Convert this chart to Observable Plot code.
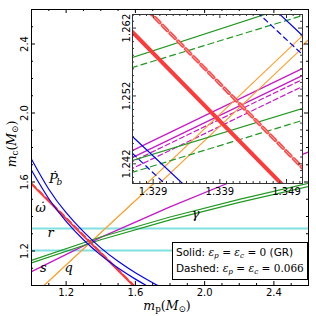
<!DOCTYPE html>
<html><head><meta charset="utf-8">
<script src="https://cdn.jsdelivr.net/npm/d3@7"></script>
<script src="https://cdn.jsdelivr.net/npm/@observablehq/plot@0.6"></script>
<style>
body{margin:0;background:#fff;}
#wrap{position:relative;width:316px;height:316px;overflow:hidden;font-family:"DejaVu Sans",sans-serif;}
#wrap svg{position:absolute;left:0;top:0;}
.ax{position:absolute;font-family:"DejaVu Serif",serif;font-size:12.5px;white-space:nowrap;line-height:12px;}
.ax i{font-style:italic;}
.ax sub{font-size:70%;vertical-align:-0.25em;line-height:0;}
#leg{position:absolute;left:172px;top:242px;width:131px;height:35px;border:1px solid #000;background:#fff;font-size:10.5px;line-height:16px;padding:1px 0 0 3px;box-sizing:content-box;white-space:nowrap;}
#leg .m{font-family:"DejaVu Serif",serif;}
#leg sub{font-size:70%;vertical-align:-0.3em;line-height:0;}
</style></head><body><div id="wrap"></div>
<script>
// ---------- data ----------
const mainMajor = [1.2, 1.6, 2.0, 2.4];
const mainMinor = [1.1, 1.3, 1.4, 1.5, 1.7, 1.8, 1.9, 2.1, 2.2, 2.3, 2.5];
const insetMajorX = [1.329, 1.339, 1.349];
const insetMajorY = [1.242, 1.252, 1.262];
const insetMinorX = [1.326,1.327,1.328,1.330,1.331,1.332,1.333,1.334,1.335,1.336,1.337,1.338,1.340,1.341,1.342,1.343,1.344,1.345,1.346,1.347,1.348,1.350,1.351];
const insetMinorY = [1.240,1.241,1.243,1.244,1.245,1.246,1.247,1.248,1.249,1.250,1.251,1.253,1.254,1.255,1.256,1.257,1.258,1.259,1.260,1.261,1.263];

// main panel curves [m_p, m_c]
const rLevels = [1.203, 1.330];
const omegaSolid = [[1.0, 1.5875], [1.5875, 1.0]];
const omegaDashed = [[1.0, 1.593], [1.593, 1.0]];
const pbUpper = [[1.0,1.732],[1.1,1.558],[1.2,1.422],[1.3,1.312],[1.4,1.218],[1.5,1.140],[1.6,1.074],[1.7,1.016],[1.73,1.0]];
const pbLower = [[1.0,1.668],[1.1,1.503],[1.2,1.372],[1.3,1.265],[1.4,1.176],[1.5,1.101],[1.6,1.037],[1.663,1.0]];
const gammaUpper = [[1.0,1.146],[1.4,1.281],[1.8,1.397],[2.2,1.4997],[2.6,1.5925]];
const gammaLower = [[1.0,1.1315],[1.4,1.2654],[1.8,1.3804],[2.2,1.482],[2.6,1.5738]];
const sLine = [[1.0,1.0805],[1.4,1.279],[1.8,1.4563],[2.2,1.6203],[2.6,1.7739]];
const qLine1 = [[1.0,0.933],[2.6,2.4258]];
const qLine2 = [[1.0,0.9317],[2.6,2.4225]];
const curveLabels = [
  {x:1.127, y:1.620, t:"Ṗ"}, {x:1.052, y:1.452, t:"ω̇"}, {x:1.110, y:1.307, t:"r"},
  {x:1.069, y:1.104, t:"s"}, {x:1.214, y:1.104, t:"q"}, {x:1.948, y:1.417, t:"γ"}
];
const pbSub = [{x:1.127, y:1.620, t:"b"}];

// inset segments [m_p, m_c]
const inRedSolid = [[1.320,1.2673],[1.356,1.2313]];
const inRedDashed = [[1.320,1.2728],[1.356,1.2368]];
const inGreenSolid = [[[1.320,1.25577],[1.356,1.26729]], [[1.320,1.24074],[1.356,1.25154]]];
const inGreenDashed = [[[1.320,1.25442],[1.356,1.26522]], [[1.320,1.23898],[1.356,1.24978]]];
const inMagSolid = [[[1.320,1.24116],[1.356,1.25822]], [[1.320,1.24013],[1.356,1.25719]]];
const inMagDashed = [[[1.320,1.23955],[1.356,1.25661]], [[1.320,1.23852],[1.356,1.25558]]];
const inOrange = [[[1.320,1.23157],[1.356,1.26516]], [[1.320,1.22984],[1.356,1.26339]]];
const inBlueSolid = [[[1.320,1.28979],[1.356,1.25667]], [[1.320,1.25144],[1.356,1.21832]]];
const inBlueDashed = [[[1.320,1.28698],[1.356,1.25386]], [[1.320,1.24896],[1.356,1.21584]]];

// ---------- colours ----------
const RED="#ff3a3a", BLUE="#0000ff", GREEN="#229922", MAG="#c818c8", ORANGE="#ffa030", CYAN="#80e0e0";

const lines = (arr, o) => arr.map(d => Plot.line(d, {clip:true, ...o}));
const fW = 277, fH = 276;

const main = Plot.plot({
  width:316, height:316, marginLeft:31, marginRight:8, marginTop:9, marginBottom:31,
  x:{domain:[1.0,2.6], axis:null}, y:{domain:[1.0,2.6], axis:null},
  style:{background:"white", fontFamily:"DejaVu Sans", fontSize:"10px", overflow:"visible"},
  marks:[
    Plot.ruleY(rLevels, {y:d=>d, stroke:CYAN, strokeWidth:2}),
    Plot.line(sLine, {stroke:MAG, strokeWidth:1.3, clip:true}),
    Plot.line(qLine1, {stroke:ORANGE, strokeWidth:1.2, clip:true}),
    Plot.line(qLine2, {stroke:ORANGE, strokeWidth:1.0, clip:true}),
    Plot.line(gammaUpper, {stroke:GREEN, strokeWidth:1.2, clip:true}),
    Plot.line(gammaLower, {stroke:GREEN, strokeWidth:1.2, clip:true}),
    Plot.line(omegaSolid, {stroke:RED, strokeWidth:2, clip:true}),
    Plot.line(omegaDashed, {stroke:RED, strokeWidth:1.6, strokeDasharray:"6,4", clip:true}),
    Plot.line(pbUpper, {stroke:BLUE, strokeWidth:1.2, curve:"natural", clip:true}),
    Plot.line(pbLower, {stroke:BLUE, strokeWidth:1.2, curve:"natural", clip:true}),
    Plot.text(curveLabels, {x:"x", y:"y", text:"t", fontFamily:"DejaVu Serif", fontStyle:"italic", fontSize:13}),
    Plot.text(pbSub, {x:"x", y:"y", text:"t", fontFamily:"DejaVu Serif", fontStyle:"italic", fontSize:9, dx:6, dy:4}),
    Plot.frame({stroke:"black"}),
    Plot.tickX(mainMajor, {x:d=>d, insetTop:fH-4, stroke:"black"}),
    Plot.tickX(mainMajor, {x:d=>d, insetBottom:fH-4, stroke:"black"}),
    Plot.tickX(mainMinor, {x:d=>d, insetTop:fH-2, stroke:"black"}),
    Plot.tickX(mainMinor, {x:d=>d, insetBottom:fH-2, stroke:"black"}),
    Plot.tickY(mainMajor, {y:d=>d, insetRight:fW-4, stroke:"black"}),
    Plot.tickY(mainMajor, {y:d=>d, insetLeft:fW-4, stroke:"black"}),
    Plot.tickY(mainMinor, {y:d=>d, insetRight:fW-2, stroke:"black"}),
    Plot.tickY(mainMinor, {y:d=>d, insetLeft:fW-2, stroke:"black"}),
    Plot.text(mainMajor, {x:d=>d, frameAnchor:"bottom", lineAnchor:"top", dy:3, text:d=>d.toFixed(1), fontSize:10}),
    Plot.text(mainMajor, {y:d=>d, frameAnchor:"left", rotate:-90, textAnchor:"middle", lineAnchor:"bottom", dx:-4, text:d=>d.toFixed(1), fontSize:10})
  ]
});

const iW = 170, iH = 169;
const inset = Plot.plot({
  width:316, height:316, marginLeft:132, marginRight:14, marginTop:14, marginBottom:133,
  x:{domain:[1.3259,1.3514], axis:null}, y:{domain:[1.2391,1.2640], axis:null},
  style:{background:"transparent", fontFamily:"DejaVu Sans", fontSize:"10px", overflow:"visible"},
  marks:[
    Plot.frame({fill:"white"}),
    ...lines(inMagSolid, {stroke:MAG, strokeWidth:1.2}),
    ...lines(inMagDashed, {stroke:MAG, strokeWidth:1.2, strokeDasharray:"5,3"}),
    ...lines(inOrange, {stroke:ORANGE, strokeWidth:1.2}),
    ...lines(inGreenSolid, {stroke:GREEN, strokeWidth:1.2}),
    ...lines(inGreenDashed, {stroke:GREEN, strokeWidth:1.2, strokeDasharray:"6,4"}),
    ...lines(inBlueSolid, {stroke:BLUE, strokeWidth:1.2}),
    ...lines(inBlueDashed, {stroke:BLUE, strokeWidth:1.2, strokeDasharray:"5,4"}),
    Plot.line(inRedSolid, {stroke:RED, strokeWidth:4, clip:true}),
    Plot.line(inRedDashed, {stroke:"#ff4a4a", strokeWidth:3.6, strokeDasharray:"7,4", clip:true}),
    Plot.line(inRedDashed, {stroke:"#ffd0d0", strokeWidth:0.8, strokeDasharray:"7,4", clip:true}),
    Plot.frame({stroke:"#333"}),
    Plot.tickX(insetMajorX, {x:d=>d, insetTop:iH-4, stroke:"#333"}),
    Plot.tickX(insetMajorX, {x:d=>d, insetBottom:iH-4, stroke:"#333"}),
    Plot.tickX(insetMinorX, {x:d=>d, insetTop:iH-2, stroke:"#333"}),
    Plot.tickX(insetMinorX, {x:d=>d, insetBottom:iH-2, stroke:"#333"}),
    Plot.tickY(insetMajorY, {y:d=>d, insetRight:iW-4, stroke:"#333"}),
    Plot.tickY(insetMajorY, {y:d=>d, insetLeft:iW-4, stroke:"#333"}),
    Plot.tickY(insetMinorY, {y:d=>d, insetRight:iW-2, stroke:"#333"}),
    Plot.tickY(insetMinorY, {y:d=>d, insetLeft:iW-2, stroke:"#333"}),
    Plot.text(insetMajorX, {x:d=>d, frameAnchor:"bottom", lineAnchor:"top", dy:4, text:d=>d.toFixed(3), fontSize:10}),
    Plot.text(insetMajorY, {y:d=>d, frameAnchor:"left", rotate:-90, textAnchor:"middle", lineAnchor:"bottom", dx:-3, text:d=>d.toFixed(3), fontSize:10})
  ]
});
inset.style.pointerEvents = "none";

const wrap = document.getElementById("wrap");
wrap.appendChild(main);
wrap.appendChild(inset);

const xl = document.createElement("div");
xl.className = "ax";
xl.innerHTML = '<i>m</i><sub>p</sub>(<i>M</i><sub>⊙</sub>)';
xl.style.left = "167px"; xl.style.top = "300px"; xl.style.transform = "translateX(-50%)";
wrap.appendChild(xl);
const yl = document.createElement("div");
yl.className = "ax";
yl.innerHTML = '<i>m</i><sub>c</sub>(<i>M</i><sub>⊙</sub>)';
yl.style.left = "12px"; yl.style.top = "144px"; yl.style.transform = "translate(-50%,-50%) rotate(-90deg)";
wrap.appendChild(yl);

const leg = document.createElement("div");
leg.id = "leg";
leg.innerHTML = 'Solid: <span class="m"><i>ε</i><sub><i>p</i></sub> = <i>ε</i><sub><i>c</i></sub> = 0</span> (GR)<br>Dashed: <span class="m"><i>ε</i><sub><i>p</i></sub> = <i>ε</i><sub><i>c</i></sub> = 0.066</span>';
wrap.appendChild(leg);
</script></body></html>
